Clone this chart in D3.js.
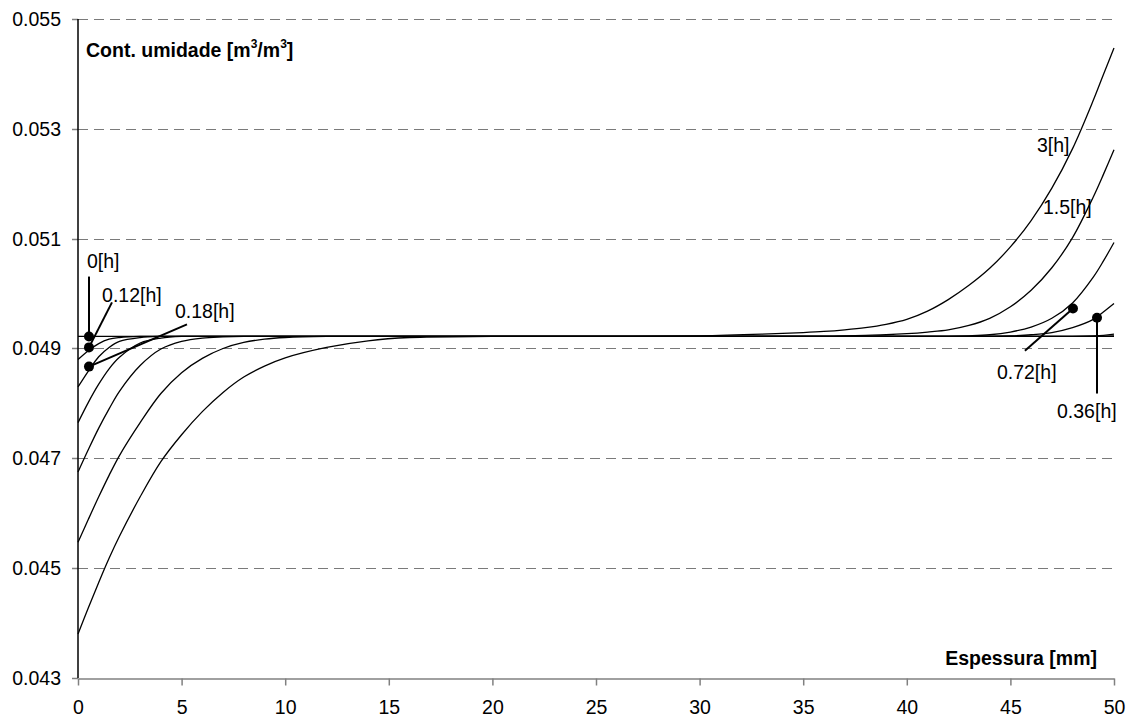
<!DOCTYPE html>
<html>
<head>
<meta charset="utf-8">
<script src="https://cdn.jsdelivr.net/npm/d3@7"></script>
<style>
  html, body { margin: 0; padding: 0; background: #fff; }
  svg { display: block; font-family: "Liberation Sans", Arial, sans-serif; }
</style>
</head>
<body>
<svg id="chart" width="1133" height="718"></svg>
<script>
// ---- data ----
const xGrid = [0, 0.5, 1, 1.5, 2, 3, 4, 5, 6, 7, 8, 9, 10, 12, 14, 16, 20, 25, 30, 33, 35, 36, 37, 38, 39, 40, 41, 42, 43, 44, 45, 46, 47, 48, 49, 49.5, 50];

const t0h = [0.04922, 0.04922, 0.04922, 0.04922, 0.04922, 0.04922, 0.04922, 0.04922, 0.04922, 0.04922, 0.04922, 0.04922, 0.04922, 0.04922, 0.04922, 0.04922, 0.04922, 0.04922, 0.04922, 0.04922, 0.04922, 0.04922, 0.04922, 0.04922, 0.04922, 0.04922, 0.04922, 0.04922, 0.04922, 0.04922, 0.04922, 0.04922, 0.04922, 0.04922, 0.04922, 0.04922, 0.04922];
const t012h = [0.04880, 0.04896, 0.04909, 0.04917, 0.04920, 0.04922, 0.04922, 0.04922, 0.04922, 0.04922, 0.04922, 0.04922, 0.04922, 0.04922, 0.04922, 0.04922, 0.04922, 0.04922, 0.04922, 0.04922, 0.04922, 0.04922, 0.04922, 0.04922, 0.04922, 0.04922, 0.04922, 0.04922, 0.04922, 0.04922, 0.04922, 0.04922, 0.04922, 0.04922, 0.04922, 0.04922, 0.04923];
const t018h = [0.04830, 0.04859, 0.04885, 0.04902, 0.04913, 0.04920, 0.04922, 0.04922, 0.04922, 0.04922, 0.04922, 0.04922, 0.04922, 0.04922, 0.04922, 0.04922, 0.04922, 0.04922, 0.04922, 0.04922, 0.04922, 0.04922, 0.04922, 0.04922, 0.04922, 0.04922, 0.04922, 0.04922, 0.04922, 0.04922, 0.04922, 0.04922, 0.04922, 0.04922, 0.04923, 0.04924, 0.04926];
const t036h = [0.04765, 0.04802, 0.04835, 0.04863, 0.04884, 0.04910, 0.04919, 0.04922, 0.04922, 0.04922, 0.04922, 0.04922, 0.04922, 0.04922, 0.04922, 0.04922, 0.04922, 0.04922, 0.04922, 0.04922, 0.04922, 0.04922, 0.04922, 0.04922, 0.04922, 0.04922, 0.04922, 0.04922, 0.04922, 0.04922, 0.04923, 0.04925, 0.04929, 0.04938, 0.04953, 0.04967, 0.04982];
const t072h = [0.04675, 0.04716, 0.04755, 0.04790, 0.04822, 0.04869, 0.04899, 0.04913, 0.04919, 0.04921, 0.04922, 0.04922, 0.04922, 0.04922, 0.04922, 0.04922, 0.04922, 0.04922, 0.04922, 0.04922, 0.04922, 0.04922, 0.04922, 0.04922, 0.04922, 0.04922, 0.04922, 0.04922, 0.04923, 0.04925, 0.04930, 0.04939, 0.04955, 0.04983, 0.05030, 0.05060, 0.05093];
const t15h = [0.04547, 0.04589, 0.04630, 0.04669, 0.04705, 0.04765, 0.04818, 0.04856, 0.04882, 0.04900, 0.04911, 0.04917, 0.04920, 0.04922, 0.04922, 0.04922, 0.04922, 0.04922, 0.04922, 0.04922, 0.04922, 0.04922, 0.04923, 0.04924, 0.04925, 0.04927, 0.04930, 0.04934, 0.04942, 0.04955, 0.04976, 0.05006, 0.05047, 0.05102, 0.05176, 0.05218, 0.05262];
const t3h = [0.04380, 0.04428, 0.04474, 0.04518, 0.04558, 0.04630, 0.04694, 0.04743, 0.04785, 0.04820, 0.04848, 0.04868, 0.04883, 0.04902, 0.04914, 0.04920, 0.04922, 0.04922, 0.04923, 0.04926, 0.04929, 0.04931, 0.04934, 0.04938, 0.04944, 0.04953, 0.04968, 0.04989, 0.05015, 0.05046, 0.05085, 0.05133, 0.05192, 0.05264, 0.05352, 0.05400, 0.05447];

const seriesList = [t0h, t012h, t018h, t036h, t072h, t15h, t3h];

const xTicks = [0, 5, 10, 15, 20, 25, 30, 35, 40, 45, 50];
const yTicks = [0.043, 0.045, 0.047, 0.049, 0.051, 0.053, 0.055];

// annotation anchors in data units: [mm, value]
const annotText = ["0[h]", "0.12[h]", "0.18[h]", "0.72[h]", "0.36[h]", "3[h]", "1.5[h]"];
const annotDot  = [[0.53, 0.04922], [0.53, 0.04902], [0.53, 0.04867], [48.02, 0.04973], [49.18, 0.04956], null, null];
const annotEnd  = [[0.53, 0.05031], [1.64, 0.04984], [5.26, 0.04944], [45.7, 0.04896], [49.18, 0.04818], null, null];
const annotPos  = [[0.43, 0.05047], [1.16, 0.04985], [4.68, 0.04956], [44.35, 0.04844], [47.25, 0.04773], [46.28, 0.05258], [46.57, 0.05145]];

// ---- layout ----
const W = 1133, H = 718;
const margin = {left: 78, top: 19, right: 19, bottom: 40};
const fs = 19.5;

const svg = d3.select("#chart");
const x = d3.scaleLinear().domain([0, 50]).range([margin.left, W - margin.right]);
const y = d3.scaleLinear().domain([0.043, 0.055]).range([H - margin.bottom, margin.top]);
const snap = v => Math.round(v) + 0.5;

// gridlines
svg.append("g")
  .selectAll("line")
  .data(yTicks.filter(d => d > 0.043))
  .join("line")
  .attr("x1", x(0)).attr("x2", x(50))
  .attr("y1", d => snap(y(d))).attr("y2", d => snap(y(d)))
  .attr("stroke", "#7a7a7a").attr("stroke-width", 1)
  .attr("shape-rendering", "crispEdges")
  .attr("stroke-dasharray", "10,6");

// x axis
const gx = svg.append("g")
  .attr("transform", `translate(0,${snap(y(0.043))})`)
  .call(d3.axisBottom(x).tickValues(xTicks).tickFormat(d3.format("d")).tickSize(7).tickPadding(15).tickSizeOuter(0));
gx.select(".domain").attr("stroke", "#808080").attr("stroke-width", 1.5);
gx.selectAll(".tick line").attr("stroke", "#808080").attr("stroke-width", 1.5);
gx.selectAll("text").attr("font-size", fs).attr("fill", "#000").attr("font-family", "Liberation Sans, Arial, sans-serif");

// y axis
const gy = svg.append("g")
  .attr("transform", `translate(${x(0)},0)`)
  .call(d3.axisLeft(y).tickValues(yTicks).tickFormat(d3.format(".3f")).tickSize(6).tickPadding(11).tickSizeOuter(0));
gy.select(".domain").remove();
gy.selectAll(".tick").attr("transform", d => `translate(0,${snap(y(d))})`);
gy.selectAll(".tick line").attr("stroke", "#808080").attr("stroke-width", 1.5);
gy.selectAll("text").attr("font-size", fs).attr("fill", "#000").attr("font-family", "Liberation Sans, Arial, sans-serif");

// curves
const line = d3.line()
  .x((d, i) => x(xGrid[i]))
  .y(d => y(d))
  .curve(d3.curveCatmullRom.alpha(0.5));

svg.append("g")
  .selectAll("path")
  .data(seriesList)
  .join("path")
  .attr("d", d => line(d))
  .attr("fill", "none")
  .attr("stroke", "#000")
  .attr("stroke-width", 1.3);

// y axis line (black, on top)
svg.append("line")
  .attr("x1", x(0)).attr("x2", x(0))
  .attr("y1", y(0.055)).attr("y2", y(0.043))
  .attr("stroke", "#000").attr("stroke-width", 1.5);

// annotations
const ann = svg.append("g");
annotText.forEach((t, i) => {
  const d = annotDot[i], e = annotEnd[i], p = annotPos[i];
  if (d && e) {
    ann.append("line")
      .attr("x1", x(d[0])).attr("y1", y(d[1]))
      .attr("x2", x(e[0])).attr("y2", y(e[1]))
      .attr("stroke", "#000").attr("stroke-width", 2);
    ann.append("circle")
      .attr("cx", x(d[0])).attr("cy", y(d[1])).attr("r", 5)
      .attr("fill", "#000");
  }
  ann.append("text")
    .attr("x", x(p[0])).attr("y", y(p[1]))
    .attr("font-size", fs).attr("fill", "#000")
    .text(t);
});

// axis titles
const yt = svg.append("text")
  .attr("x", margin.left + 8).attr("y", margin.top + 38)
  .attr("font-size", fs).attr("font-weight", "bold").attr("fill", "#000");
yt.append("tspan").text("Cont. umidade [m");
yt.append("tspan").attr("font-size", 12).attr("dy", -9).text("3");
yt.append("tspan").attr("dy", 9).text("/m");
yt.append("tspan").attr("font-size", 12).attr("dy", -9).text("3");
yt.append("tspan").attr("dy", 9).text("]");

svg.append("text")
  .attr("x", W - margin.right - 17).attr("y", H - margin.bottom - 13)
  .attr("text-anchor", "end")
  .attr("font-size", fs).attr("font-weight", "bold").attr("fill", "#000")
  .text("Espessura [mm]");
</script>
</body>
</html>
